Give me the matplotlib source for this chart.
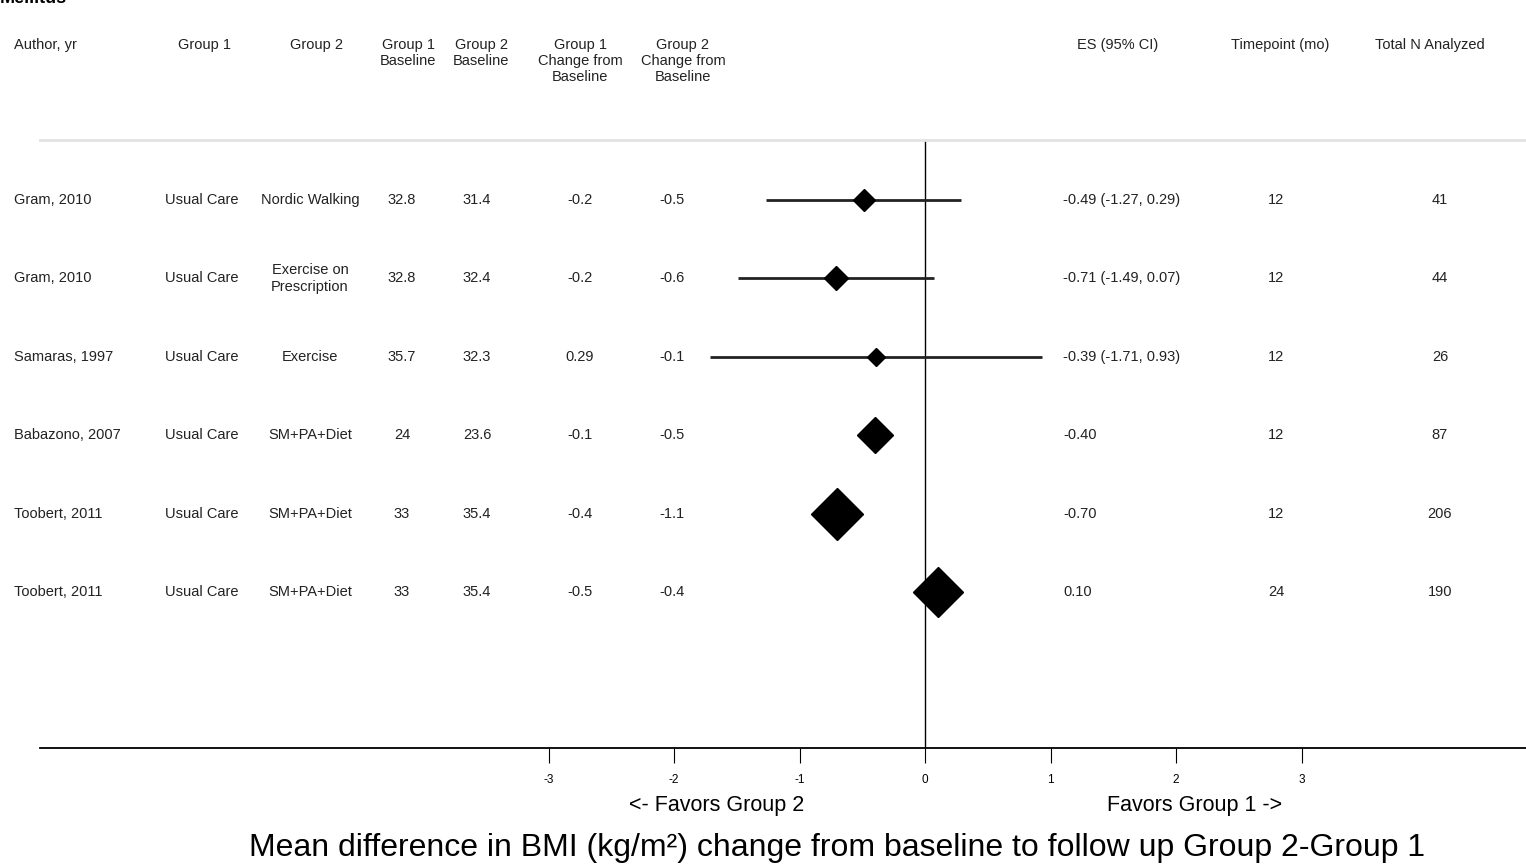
import matplotlib.pyplot as plt
import matplotlib.transforms as mtransforms

plt.rcParams['font.family'] = ['Liberation Sans', 'DejaVu Sans']

# table data
authors = ['Gram, 2010', 'Gram, 2010', 'Samaras, 1997', 'Babazono, 2007', 'Toobert, 2011', 'Toobert, 2011']
group1 = ['Usual Care'] * 6
group2 = ['Nordic Walking', 'Exercise on\nPrescription', 'Exercise', 'SM+PA+Diet', 'SM+PA+Diet', 'SM+PA+Diet']
g1_base = ['32.8', '32.8', '35.7', '24', '33', '33']
g2_base = ['31.4', '32.4', '32.3', '23.6', '35.4', '35.4']
g1_change = ['-0.2', '-0.2', '0.29', '-0.1', '-0.4', '-0.5']
g2_change = ['-0.5', '-0.6', '-0.1', '-0.5', '-1.1', '-0.4']
es_text = ['-0.49 (-1.27, 0.29)', '-0.71 (-1.49, 0.07)', '-0.39 (-1.71, 0.93)', '-0.40', '-0.70', '0.10']
timepoint = ['12', '12', '12', '12', '12', '24']
total_n = ['41', '44', '26', '87', '206', '190']

# forest plot data
es = [-0.49, -0.71, -0.39, -0.40, -0.70, 0.10]
ci_low = [-1.27, -1.49, -1.71, None, None, None]
ci_high = [0.29, 0.07, 0.93, None, None, None]
marker_size = [11, 12, 9, 18, 26, 25]

ticks = [-3, -2, -1, 0, 1, 2, 3]

W, H = 1526, 866
fig = plt.figure(figsize=(W / 100, H / 100), dpi=100)

# forest axes: from x=40px to right edge, y 140px..748px
ax = fig.add_axes([40 / W, 1 - 748 / H, 1 - 40 / W, (748 - 140) / H])
px_per_unit = 125.5
zero_px = 925
ax.set_xlim((40 - zero_px) / px_per_unit, (W - zero_px) / px_per_unit)
row0, row_step = 200, 78.4
ax.set_ylim((748 - row0) / row_step, (140 - row0) / row_step)

for s in ['left', 'right']:
    ax.spines[s].set_visible(False)
ax.spines['top'].set_color('#e2e2e2')
ax.spines['top'].set_linewidth(2)
ax.spines['bottom'].set_linewidth(1.3)
ax.set_yticks([])
ax.set_xticks(ticks)
ax.set_xticklabels([str(t) for t in ticks], fontsize=8.5)
ax.tick_params(axis='x', direction='out', length=11, width=0.8, pad=8)

ax.axvline(0, color='black', lw=1)

for i in range(len(es)):
    if ci_low[i] is not None:
        ax.plot([ci_low[i], ci_high[i]], [i, i], color='#222222', lw=2, solid_capstyle='butt')
    ax.plot(es[i], i, marker='D', color='black', markersize=marker_size[i], linestyle='none')

# table text
trans = mtransforms.blended_transform_factory(fig.transFigure, ax.transData)
fs = 10.5
columns = [
    (14, authors, 'left'),
    (202, group1, 'center'),
    (310, group2, 'center'),
    (402, g1_base, 'center'),
    (477, g2_base, 'center'),
    (580, g1_change, 'center'),
    (672, g2_change, 'center'),
    (1063, es_text, 'left'),
    (1276, timepoint, 'center'),
    (1440, total_n, 'center'),
]
for xpx, vals, ha in columns:
    for i, v in enumerate(vals):
        ax.text(xpx / W, i, v, transform=trans, ha=ha, va='center', fontsize=fs,
                color='#222222', linespacing=1.25, clip_on=False)

headers = [
    (14, 'Author, yr', 'left'),
    (205, 'Group 1', 'center'),
    (317, 'Group 2', 'center'),
    (408, 'Group 1\nBaseline', 'center'),
    (481, 'Group 2\nBaseline', 'center'),
    (580, 'Group 1\nChange from\nBaseline', 'center'),
    (683, 'Group 2\nChange from\nBaseline', 'center'),
    (1118, 'ES (95% CI)', 'center'),
    (1280, 'Timepoint (mo)', 'center'),
    (1430, 'Total N Analyzed', 'center'),
]
for xpx, txt, ha in headers:
    fig.text(xpx / W, 1 - 38 / H, txt, ha=ha, va='top', fontsize=fs,
             color='#222222', linespacing=1.2)

# cut-off title at the very top
fig.text(0, 1 - 3 / H, 'Mellitus', ha='left', va='baseline', fontsize=13,
         fontweight='bold')

fig.text(717 / W, 1 - 806 / H, '<- Favors Group 2', ha='center', va='center', fontsize=15.5)
fig.text(1195 / W, 1 - 806 / H, 'Favors Group 1 ->', ha='center', va='center', fontsize=15.5)
fig.text(837 / W, 1 - 848 / H,
         'Mean difference in BMI (kg/m\u00b2) change from baseline to follow up Group 2-Group 1',
         ha='center', va='center', fontsize=23)

fig.savefig('out.png', dpi=100)
